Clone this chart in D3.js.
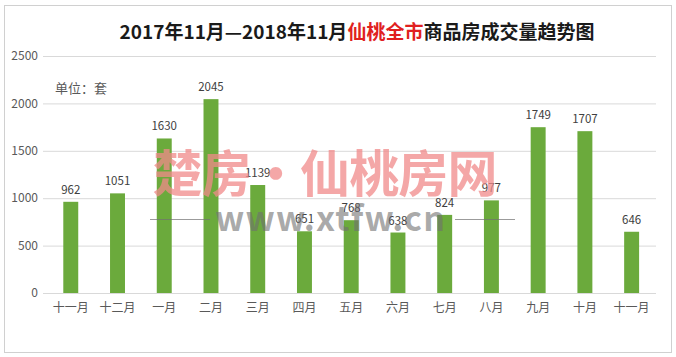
<!DOCTYPE html>
<html><head><meta charset="utf-8">
<script src="https://cdn.jsdelivr.net/npm/d3@7"></script>
<style>body{margin:0;background:#fff;}svg{display:block;}</style>
</head><body>
<script>
const categories = ["十一月","十二月","一月","二月","三月","四月","五月","六月","七月","八月","九月","十月","十一月"];
const values = [962,1051,1630,2045,1139,651,768,638,824,977,1749,1707,646];
const yTicks = [0,500,1000,1500,2000,2500];

const W = 676, H = 357;
const svg = d3.select("body").append("svg").attr("width", W).attr("height", H);
const font = "'Microsoft YaHei','Noto Sans CJK SC',sans-serif";

svg.append("rect").attr("x",4.5).attr("y",5.5).attr("width",667).attr("height",347)
  .attr("fill","#fff").attr("stroke","#d0d0d0");

const x = d3.scaleBand().domain(d3.range(categories.length)).range([47.4, 655]).paddingInner(0.68).paddingOuter(0.34);
const y = d3.scaleLinear().domain([0,2500]).range([293,56]);

// grid
svg.append("g").selectAll("line").data(yTicks).join("line")
  .attr("x1",43).attr("x2",656).attr("y1",d=>y(d)+0.5).attr("y2",d=>y(d)+0.5)
  .attr("stroke","#d9d9d9").attr("stroke-width",1);

// y labels
svg.append("g").selectAll("text").data(yTicks).join("text")
  .attr("x",38).attr("y",d=>y(d)).attr("dy","0.35em").attr("text-anchor","end")
  .attr("font-family",font).attr("font-size",12).attr("fill","#595959").text(d=>d);

// bars
svg.append("g").selectAll("rect").data(values).join("rect")
  .attr("x",(d,i)=>x(i)).attr("width",x.bandwidth())
  .attr("y",d=>y(d)).attr("height",d=>y(0)-y(d)).attr("fill","#6BAA3C");

// value labels
svg.append("g").selectAll("text").data(values).join("text")
  .attr("x",(d,i)=>x(i)+x.bandwidth()/2).attr("y",d=>y(d)-8)
  .attr("text-anchor","middle").attr("font-family",font).attr("font-size",11.5)
  .attr("fill","#404040").text(d=>d);

// x labels
svg.append("g").selectAll("text").data(categories).join("text")
  .attr("x",(d,i)=>x(i)+x.bandwidth()/2).attr("y",312)
  .attr("text-anchor","middle").attr("font-family",font).attr("font-size",12)
  .attr("fill","#595959").text(d=>d);

// unit
svg.append("text").attr("x",55).attr("y",93).attr("font-family",font).attr("font-size",13)
  .attr("fill","#595959").text("单位：套");

// title
const t = svg.append("text").attr("x",357).attr("y",39).attr("text-anchor","middle")
  .attr("font-family",font).attr("font-size",19).attr("font-weight","bold").attr("fill","#1a1a1a");
t.append("tspan").text("2017年11月—2018年11月");
t.append("tspan").attr("fill","#e02020").text("仙桃全市");
t.append("tspan").text("商品房成交量趋势图");

// watermark
const wm = svg.append("g").attr("pointer-events","none");
wm.append("text").attr("x",325).attr("y",192).attr("text-anchor","middle")
  .attr("font-family",font).attr("font-size",50).attr("font-weight","bold")
  .attr("fill","#f08a8a").attr("fill-opacity",0.75).attr("textLength",345).text("楚房·仙桃房网");
wm.append("text").attr("x",330).attr("y",231).attr("text-anchor","middle")
  .attr("font-family",font).attr("font-size",34).attr("font-weight","bold")
  .attr("fill","#707070").attr("fill-opacity",0.6).attr("textLength",230).text("www.xtfw.cn");
wm.selectAll("line").data([[150,210],[455,515]]).join("line")
  .attr("x1",d=>d[0]).attr("x2",d=>d[1]).attr("y1",219.5).attr("y2",219.5)
  .attr("stroke","#707070").attr("stroke-opacity",0.7);
</script>
</body></html>
